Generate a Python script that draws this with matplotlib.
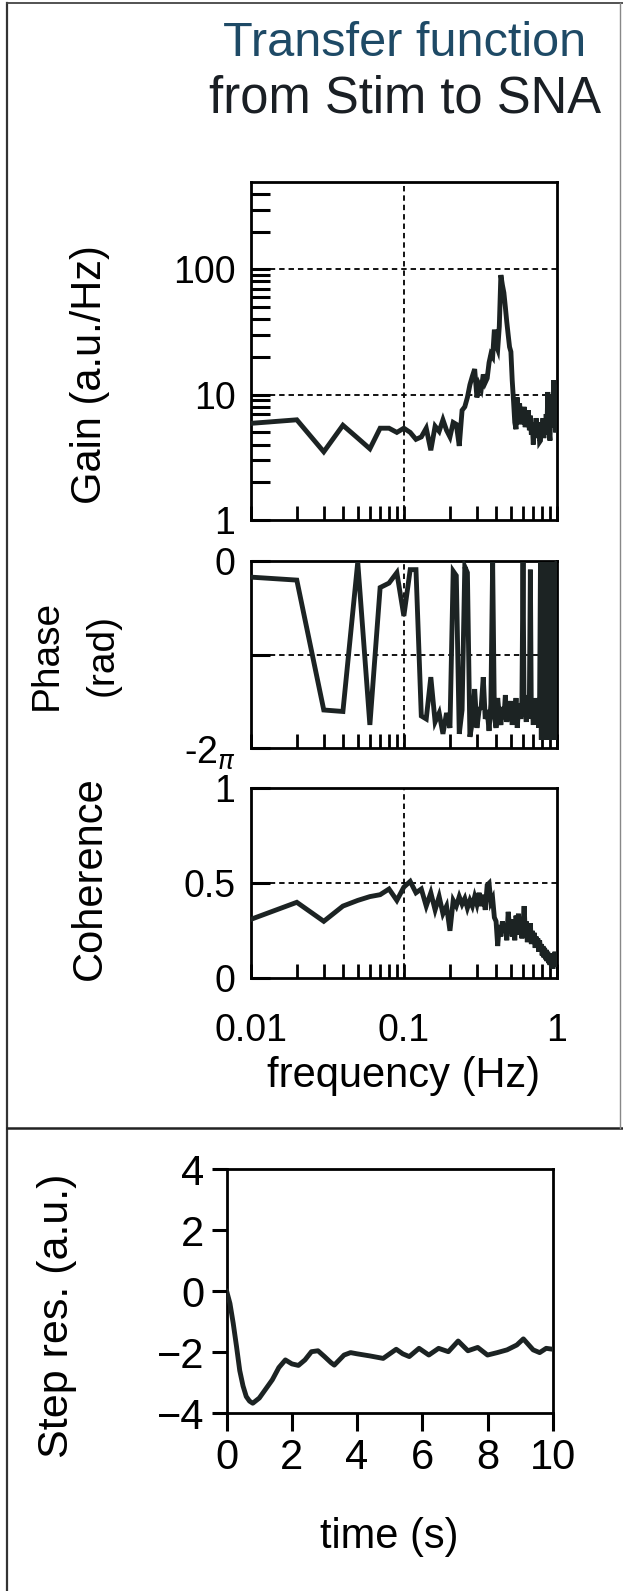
import numpy as np
import matplotlib
matplotlib.use("Agg")
import matplotlib.pyplot as plt
from matplotlib.lines import Line2D
from matplotlib.ticker import FixedLocator, NullFormatter

plt.rcParams['font.family'] = ['Liberation Sans', 'DejaVu Sans']
plt.rcParams['mathtext.fontset'] = 'dejavusans'

# ---------------- data ----------------
freq_hz = np.arange(1, 101) / 100.0

gain = [5.9, 6.3, 3.5, 5.7, 4.5, 3.7, 5.4, 5.4, 5.0, 5.4,
        5.0, 4.4, 4.6, 5.4, 3.6, 5.6, 5.1, 6.3, 5.2, 4.6,
        6.0, 5.8, 3.9, 7.5, 8.0, 9.5, 12.0, 14.0, 16.0, 9.5,
        12.0, 11.0, 14.5, 12.5, 13.5, 18.0, 21.0, 20.0, 33.0, 25.0,
        23.0, 35.0, 90.0, 75.0, 65.0, 50.0, 38.0, 30.0, 24.0, 22.0,
        13.0, 9.0, 6.0, 5.3, 9.5, 6.5, 8.5, 5.8, 7.5, 6.0,
        8.0, 5.5, 7.0, 6.2, 7.5, 5.2, 6.8, 4.8, 6.0, 4.0,
        5.5, 4.5, 6.5, 5.0, 4.6, 5.8, 4.2, 4.3, 6.0, 5.0,
        6.5, 4.5, 5.5, 4.8, 7.0, 5.2, 10.5, 6.0, 5.0, 4.3,
        8.0, 5.5, 10.0, 6.0, 13.0, 7.0, 11.0, 5.0, 12.0, 10.0]

phase = [-0.55, -0.65, -5.0, -5.05, -0.05, -5.5, -0.9, -0.75, -0.4, -1.85,
         -0.3, -0.3, -5.2, -5.3, -3.9, -5.4, -5.1, -5.8, -5.1, -5.6,
         -0.35, -0.5, -5.8, -5.0, -0.2, -0.4, -5.9, -5.4, -4.3, -5.6,
         -5.0, -4.9, -3.9, -5.3, -5.0, -5.7, -4.8, -0.05, -5.2, -5.6,
         -4.6, -5.2, -5.5, -4.9, -5.3, -4.5, -5.4, -5.0, -5.2, -4.7,
         -5.5, -4.9, -5.3, -4.6, -5.6, -5.0, -4.8, -5.3, -4.7, -0.05,
         -5.2, -4.9, -5.4, -4.5, -5.1, -4.8, -0.3, -5.3, -4.9, -5.5,
         -4.8, -5.3, -4.6, -5.2, -4.9, -5.6, -4.7, -0.05, -6.0, -0.05,
         -6.0, -0.05, -6.0, -0.05, -6.0, -0.05, -6.0, -0.05, -6.0, -0.05,
         -6.0, -0.05, -6.0, -0.05, -6.0, -0.05, -6.0, -0.05, -6.0, -0.05]

coherence = [0.31, 0.40, 0.30, 0.38, 0.41, 0.43, 0.44, 0.47, 0.41, 0.48,
             0.51, 0.45, 0.47, 0.38, 0.45, 0.36, 0.43, 0.34, 0.38, 0.25,
             0.41, 0.38, 0.43, 0.39, 0.42, 0.37, 0.41, 0.38, 0.43, 0.39,
             0.45, 0.38, 0.44, 0.36, 0.49, 0.50, 0.40, 0.42, 0.32, 0.30,
             0.17, 0.28, 0.22, 0.30, 0.24, 0.29, 0.20, 0.35, 0.27, 0.31,
             0.22, 0.29, 0.20, 0.33, 0.26, 0.34, 0.23, 0.30, 0.21, 0.28,
             0.38, 0.25, 0.30, 0.19, 0.27, 0.22, 0.29, 0.18, 0.25, 0.20,
             0.24, 0.16, 0.22, 0.18, 0.21, 0.14, 0.20, 0.15, 0.18, 0.12,
             0.17, 0.11, 0.16, 0.10, 0.15, 0.09, 0.14, 0.08, 0.13, 0.07,
             0.12, 0.06, 0.13, 0.05, 0.11, 0.07, 0.14, 0.06, 0.12, 0.10]

step_t = [0.0, 0.1, 0.2, 0.3, 0.4, 0.5, 0.6, 0.7, 0.8, 1.0, 1.2, 1.4, 1.6, 1.8,
          2.0, 2.2, 2.4, 2.6, 2.8, 3.0, 3.2, 3.3, 3.6, 3.8, 4.0, 4.4, 4.8, 5.0,
          5.2, 5.4, 5.6, 5.9, 6.2, 6.5, 6.8, 7.1, 7.4, 7.7, 8.0, 8.3, 8.6, 8.9,
          9.1, 9.4, 9.6, 9.8, 10.0]
step_val = [0.0, -0.4, -1.05, -1.8, -2.6, -3.1, -3.45, -3.6, -3.67, -3.5, -3.2,
            -2.9, -2.5, -2.25, -2.38, -2.43, -2.25, -1.98, -1.95, -2.14, -2.34,
            -2.42, -2.09, -2.01, -2.05, -2.12, -2.2, -2.05, -1.9, -2.05, -2.14,
            -1.87, -2.09, -1.87, -1.98, -1.63, -1.95, -1.84, -2.09, -2.01, -1.92,
            -1.76, -1.56, -1.92, -2.01, -1.87, -1.9]

freq_ticks_minor = [0.02, 0.03, 0.04, 0.05, 0.06, 0.07, 0.08, 0.09,
                    0.2, 0.3, 0.4, 0.5, 0.6, 0.7, 0.8, 0.9]
freq_ticks_major = [0.01, 0.1, 1]
freq_labels = ['0.01', '0.1', '1']

# ---------------- figure ----------------
W, H = 623, 1591
fig = plt.figure(figsize=(W / 100, H / 100), dpi=100)

LINE_C = '#1c2323'
LW = 3.5
SPW = 2.0
TICK_FS = 27


def box(l, t, r, b):
    return [l / W, 1 - b / H, (r - l) / W, (b - t) / H]


def freq_axis(ax):
    ax.set_xscale('log')
    ax.set_xlim(0.01, 1)
    ax.xaxis.set_major_locator(FixedLocator(freq_ticks_major))
    ax.xaxis.set_minor_locator(FixedLocator(freq_ticks_minor))
    ax.xaxis.set_minor_formatter(NullFormatter())
    ax.tick_params(axis='x', which='both', direction='in', length=10, width=2.0,
                   top=False, color='black')
    ax.tick_params(axis='y', which='both', direction='in', length=14, width=2.2,
                   right=False, labelsize=TICK_FS, pad=11)
    for s in ax.spines.values():
        s.set_linewidth(SPW)
    ax.axvline(0.1, color='black', lw=1.3, ls=(0, (3, 2.2)), zorder=1)


# Gain
axg = fig.add_axes(box(250.7, 181.7, 557, 520))
freq_axis(axg)
axg.set_yscale('log')
axg.set_ylim(1, 500)
axg.yaxis.set_major_locator(FixedLocator([1, 10, 100]))
axg.yaxis.set_minor_locator(FixedLocator([2, 3, 4, 5, 6, 7, 8, 9,
                                          20, 30, 40, 50, 60, 70, 80, 90,
                                          200, 300, 400]))
axg.yaxis.set_minor_formatter(NullFormatter())
axg.set_yticklabels(['1', '10', '100'])
axg.tick_params(axis='x', labelbottom=False)
for v in [10, 100]:
    axg.axhline(v, color='black', lw=1.3, ls=(0, (3, 2.2)), zorder=1)
axg.plot(freq_hz, gain, color=LINE_C, lw=LW, zorder=3, solid_joinstyle='miter')

# Phase
axp = fig.add_axes(box(250.7, 560.7, 557, 748.3))
freq_axis(axp)
axp.set_ylim(-2 * np.pi, 0)
axp.yaxis.set_major_locator(FixedLocator([-2 * np.pi, -np.pi, 0]))
axp.set_yticklabels([r'-2$_{\pi}$', '', '0'])
axp.tick_params(axis='x', labelbottom=False)
axp.axhline(-np.pi, color='black', lw=1.3, ls=(0, (3, 2.2)), zorder=1)
axp.plot(freq_hz, phase, color=LINE_C, lw=LW, zorder=3, solid_joinstyle='miter')

# Coherence
axc = fig.add_axes(box(250.7, 788.3, 557, 978.3))
freq_axis(axc)
axc.set_ylim(0, 1)
axc.yaxis.set_major_locator(FixedLocator([0, 0.5, 1]))
axc.set_yticklabels(['0', '0.5', '1'])
axc.set_xticklabels(freq_labels)
axc.tick_params(axis='x', which='major', labelsize=TICK_FS, pad=25)
axc.axhline(0.5, color='black', lw=1.3, ls=(0, (3, 2.2)), zorder=1)
axc.plot(freq_hz, coherence, color=LINE_C, lw=LW, zorder=3, solid_joinstyle='miter')
axc.set_xlabel('frequency (Hz)', fontsize=30, labelpad=5)

# Step response
axs = fig.add_axes(box(226.7, 1169.3, 552.7, 1413.3))
axs.set_xlim(0, 10)
axs.set_ylim(-4, 4)
axs.set_xticks([0, 2, 4, 6, 8, 10])
axs.set_yticks([-4, -2, 0, 2, 4])
axs.tick_params(axis='x', direction='out', length=13, width=2.2, labelsize=30, pad=5)
axs.tick_params(axis='y', direction='out', length=11, width=2.2, labelsize=30, pad=5)
for s in axs.spines.values():
    s.set_linewidth(SPW)
axs.plot(step_t, step_val, color=LINE_C, lw=LW, zorder=3)
axs.set_xlabel('time (s)', fontsize=30, labelpad=28)

# y-axis labels
fig.text(90 / W, 1 - 375 / H, 'Gain (a.u./Hz)', rotation=90, ha='center', va='center', fontsize=30)
fig.text(47 / W, 1 - 655 / H, 'Phase', rotation=90, ha='center', va='center', fontsize=28)
fig.text(103 / W, 1 - 655 / H, '(rad)', rotation=90, ha='center', va='center', fontsize=28)
fig.text(90 / W, 1 - 878 / H, 'Coherence', rotation=90, ha='center', va='center', fontsize=30)
fig.text(57 / W, 1 - 1316 / H, 'Step res. (a.u.)', rotation=90, ha='center', va='center', fontsize=31)

# title
fig.text(405 / W, 1 - 44 / H, 'Transfer function', ha='center', va='center', fontsize=35, color='#1e4a66')
fig.text(405 / W, 1 - 99 / H, 'from Stim to SNA', ha='center', va='center', fontsize=36.5, color='#1a1f24')

# frame lines
fig.add_artist(Line2D([7 / W, 7 / W], [0, 1 - 3 / H], transform=fig.transFigure, color='#333333', lw=1.6))
fig.add_artist(Line2D([7 / W, 1], [1 - 3 / H, 1 - 3 / H], transform=fig.transFigure, color='#444444', lw=1.3))
fig.add_artist(Line2D([7 / W, 1], [1 - 1128 / H, 1 - 1128 / H], transform=fig.transFigure, color='#222222', lw=1.8))
fig.add_artist(Line2D([620 / W, 620 / W], [1 - 1128 / H, 1 - 3 / H], transform=fig.transFigure, color='#888888', lw=1.0))

fig.savefig('out.png', dpi=100)
